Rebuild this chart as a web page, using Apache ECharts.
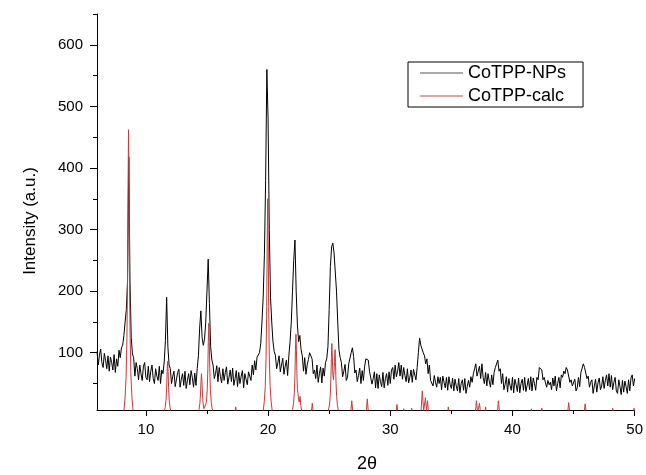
<!DOCTYPE html>
<html>
<head>
<meta charset="utf-8">
<script src="https://cdn.jsdelivr.net/npm/echarts@6/dist/echarts.min.js"></script>
<style>
html,body{margin:0;padding:0;background:#fff;}
#chart{width:646px;height:475px;}
</style>
</head>
<body>
<div id="chart"></div>
<script>
// 2θ scan grid of the measured pattern
const twoThetaStart = 6;
const twoThetaStep = 0.1;

// CoTPP-NPs measured intensity, one value per 0.1° from 6.0 to 50.0
const npIntensity = [
  102, 80, 96, 106, 84, 76, 99, 88, 74, 95,
  70, 93, 84, 72, 97, 68, 90, 78, 104, 92,
  108, 112, 128, 150, 170, 215, 418, 215, 125, 98,
  92, 62, 84, 74, 56, 80, 66, 55, 78, 84,
  60, 56, 78, 53, 70, 80, 58, 50, 74, 62,
  55, 78, 50, 72, 66, 85, 120, 190, 110, 80,
  74, 50, 62, 70, 45, 48, 68, 73, 44, 57,
  66, 47, 70, 42, 55, 66, 48, 71, 60, 44,
  67, 47, 74, 95, 140, 168, 125, 112, 122, 150,
  200, 252, 180, 110, 88, 80, 58, 66, 79, 53,
  76, 61, 51, 74, 55, 68, 77, 49, 60, 72,
  53, 75, 47, 58, 71, 45, 68, 50, 62, 71,
  43, 66, 57, 48, 69, 72, 55, 80, 64, 87,
  72, 93, 92, 100, 115, 150, 190, 260, 380, 560,
  480, 300, 190, 150, 118, 102, 96, 74, 84, 95,
  69, 80, 91, 65, 78, 88, 63, 95, 118, 150,
  200, 250, 283, 200, 145, 118, 128, 105, 95, 70,
  92, 65, 80, 89, 100, 102, 90, 66, 72, 58,
  80, 52, 66, 77, 51, 75, 62, 84, 90, 110,
  170, 240, 272, 278, 262, 265, 200, 150, 105, 92,
  84, 61, 70, 81, 55, 60, 82, 85, 100, 108,
  94, 67, 72, 53, 63, 75, 50, 71, 55, 77,
  90, 92, 88, 70, 69, 49, 58, 69, 43, 66,
  42, 64, 53, 45, 68, 43, 58, 66, 47, 69,
  50, 72, 76, 57, 80, 61, 70, 84, 62, 80,
  57, 76, 63, 53, 74, 51, 60, 72, 52, 73,
  74, 56, 76, 100, 124, 112, 115, 100, 95, 82,
  90, 66, 80, 55, 58, 46, 63, 52, 44, 61,
  50, 60, 40, 62, 52, 43, 60, 39, 61, 48,
  42, 59, 38, 57, 46, 38, 58, 35, 50, 56,
  39, 58, 34, 45, 55, 44, 61, 52, 66, 74,
  82, 62, 70, 78, 58, 82, 60, 50, 68, 46,
  66, 54, 44, 64, 48, 68, 76, 78, 88, 70,
  74, 50, 66, 40, 49, 61, 36, 58, 47, 39,
  60, 35, 57, 48, 37, 59, 35, 50, 57, 39,
  60, 37, 47, 58, 40, 61, 38, 59, 50, 39,
  60, 56, 76, 76, 72, 56, 60, 51, 44, 55,
  48, 52, 40, 59, 46, 62, 38, 50, 60, 43,
  64, 60, 70, 66, 76, 72, 72, 52, 56, 46,
  49, 57, 38, 43, 60, 45, 68, 66, 82, 76,
  76, 58, 62, 44, 52, 56, 34, 46, 57, 36,
  51, 59, 40, 46, 61, 42, 55, 64, 46, 66,
  44, 63, 40, 52, 60, 38, 34, 56, 45, 32,
  55, 36, 54, 45, 34, 56, 38, 59, 64, 46,
  58
];

// CoTPP-calc simulated pattern as [2θ, intensity]
const calcPattern = [
  [6, 0],
  [8.18, 0], [8.30, 28], [8.38, 60], [8.45, 125], [8.50, 231], [8.54, 370], [8.58, 462], [8.62, 370], [8.66, 231], [8.71, 125], [8.78, 60], [8.86, 28], [8.98, 0],
  [11.45, 0], [11.58, 11], [11.65, 23], [11.70, 43], [11.74, 69], [11.78, 86], [11.82, 69], [11.86, 43], [11.91, 23], [11.98, 11], [12.10, 0],
  [14.25, 0], [14.35, 8], [14.42, 18], [14.47, 33], [14.51, 53], [14.55, 66], [14.59, 53], [14.63, 33], [14.68, 18], [14.75, 9], [14.83, 7],
  [14.90, 12], [14.95, 19], [15.02, 40], [15.07, 74], [15.11, 118], [15.15, 148], [15.19, 118], [15.23, 74], [15.28, 40], [15.35, 19], [15.43, 9], [15.55, 0],
  [17.25, 0], [17.35, 12], [17.45, 0],
  [19.57, 0], [19.69, 21], [19.77, 45], [19.84, 95], [19.89, 175], [19.93, 280], [19.97, 350], [20.01, 280], [20.05, 175], [20.10, 95], [20.17, 45], [20.25, 21], [20.37, 0],
  [21.90, 0], [22.00, 8], [22.08, 17], [22.15, 35], [22.20, 65], [22.24, 104], [22.28, 130], [22.32, 104], [22.36, 66], [22.40, 40], [22.45, 34], [22.50, 24], [22.55, 20], [22.62, 29], [22.68, 14], [22.78, 3], [22.88, 0],
  [23.52, 0], [23.62, 18], [23.72, 0],
  [24.85, 0], [24.95, 7], [25.02, 15], [25.09, 31], [25.14, 58], [25.18, 92], [25.22, 115], [25.26, 93], [25.30, 65], [25.35, 56], [25.40, 70], [25.44, 86], [25.48, 105], [25.52, 84], [25.56, 53], [25.61, 29], [25.68, 14], [25.76, 6], [25.88, 0],
  [26.75, 0], [26.85, 22], [26.95, 0],
  [28.02, 0], [28.12, 25], [28.22, 0],
  [30.47, 0], [30.55, 16], [30.63, 0],
  [31.03, 0], [31.10, 9], [31.17, 0],
  [31.68, 0], [31.75, 10], [31.82, 0],
  [32.50, 0], [32.62, 38], [32.73, 6], [32.80, 4], [32.88, 27], [32.96, 5], [33.05, 22], [33.14, 0],
  [34.68, 0], [34.75, 12], [34.82, 0],
  [36.95, 0], [37.05, 22], [37.15, 3], [37.22, 2], [37.30, 18], [37.40, 0],
  [37.73, 0], [37.80, 12], [37.87, 0],
  [38.75, 0], [38.85, 22], [38.95, 0],
  [41.48, 0], [41.55, 9], [41.62, 0],
  [42.33, 0], [42.40, 10], [42.47, 0],
  [44.50, 0], [44.60, 19], [44.70, 0],
  [45.85, 0], [45.95, 17], [46.05, 0],
  [48.13, 0], [48.20, 10], [48.27, 0],
  [49.88, 0], [49.95, 10], [50.00, 3]
];

// Tick values
const xTickLabels = [10, 20, 30, 40, 50];
const xMinorTicks = [15, 25, 35, 45];
const yTickLabels = [100, 200, 300, 400, 500, 600];
const yMinorTicks = [50, 150, 250, 350, 450, 550, 650];

const seriesNames = ['CoTPP-NPs', 'CoTPP-calc'];

const npData = npIntensity.map((v, i) => [+(twoThetaStart + i * twoThetaStep).toFixed(2), v]);

const FONT = '"Liberation Sans", Arial, Helvetica, sans-serif';
const chart = echarts.init(document.getElementById('chart'), null, { renderer: 'canvas' });

const xMin = 6, xMax = 50, yMin = 7, yMax = 650;

chart.setOption({
  animation: false,
  backgroundColor: '#fff',
  grid: { left: 97, right: 10, top: 14, bottom: 65, containLabel: false },
  legend: {
    data: [
      { name: seriesNames[0], icon: 'rect', itemStyle: { color: '#555' } },
      { name: seriesNames[1], icon: 'rect', itemStyle: { color: '#b55050' } }
    ],
    orient: 'vertical',
    left: 408,
    top: 62,
    padding: [1, 17, 1, 12],
    itemGap: 3,
    itemWidth: 43,
    itemHeight: 1,
    borderColor: '#000',
    borderWidth: 1,
    borderRadius: 0,
    textStyle: { fontSize: 18, color: '#000', fontFamily: FONT, lineHeight: 20 }
  },
  xAxis: [
    {
      type: 'value', min: xMin, max: xMax,
      axisLine: { show: true, onZero: false, lineStyle: { color: '#000', width: 1 } },
      axisTick: { show: true, customValues: xTickLabels, length: 6, lineStyle: { color: '#000', width: 1 } },
      axisLabel: { customValues: xTickLabels, fontSize: 15, color: '#000', fontFamily: FONT, margin: 12 },
      splitLine: { show: false }
    },
    {
      type: 'value', min: xMin, max: xMax, position: 'bottom',
      axisLine: { show: false, onZero: false },
      axisTick: { show: true, customValues: xMinorTicks, length: 4, lineStyle: { color: '#000', width: 1 } },
      axisLabel: { show: false },
      splitLine: { show: false }
    }
  ],
  yAxis: [
    {
      type: 'value', min: yMin, max: yMax,
      axisLine: { show: true, onZero: false, lineStyle: { color: '#000', width: 1 } },
      axisTick: { show: true, customValues: yTickLabels, length: 7, lineStyle: { color: '#000', width: 1 } },
      axisLabel: { customValues: yTickLabels, fontSize: 15, color: '#000', fontFamily: FONT, margin: 14 },
      splitLine: { show: false }
    },
    {
      type: 'value', min: yMin, max: yMax, position: 'left',
      axisLine: { show: false, onZero: false },
      axisTick: { show: true, customValues: yMinorTicks, length: 4, lineStyle: { color: '#000', width: 1 } },
      axisLabel: { show: false },
      splitLine: { show: false }
    }
  ],
  graphic: [
    {
      type: 'text', x: 30, y: 221, rotation: Math.PI / 2,
      style: { text: 'Intensity (a.u.)', font: '17px ' + FONT, fill: '#000', align: 'center', verticalAlign: 'middle' }
    },
    {
      type: 'text', x: 367, y: 464,
      style: { text: '2θ', font: '18px ' + FONT, fill: '#000', align: 'center', verticalAlign: 'middle' }
    }
  ],
  series: [
    {
      name: seriesNames[0], type: 'line', data: npData,
      xAxisIndex: 0, yAxisIndex: 0,
      symbol: 'none', showSymbol: false, clip: true,
      lineStyle: { color: '#000', width: 1 },
      itemStyle: { color: '#000' },
      z: 2
    },
    {
      name: seriesNames[1], type: 'line', data: calcPattern,
      xAxisIndex: 0, yAxisIndex: 0,
      symbol: 'none', showSymbol: false, clip: true,
      lineStyle: { color: '#c43c3c', width: 1 },
      itemStyle: { color: '#c43c3c' },
      z: 3
    }
  ]
});
</script>
</body>
</html>
